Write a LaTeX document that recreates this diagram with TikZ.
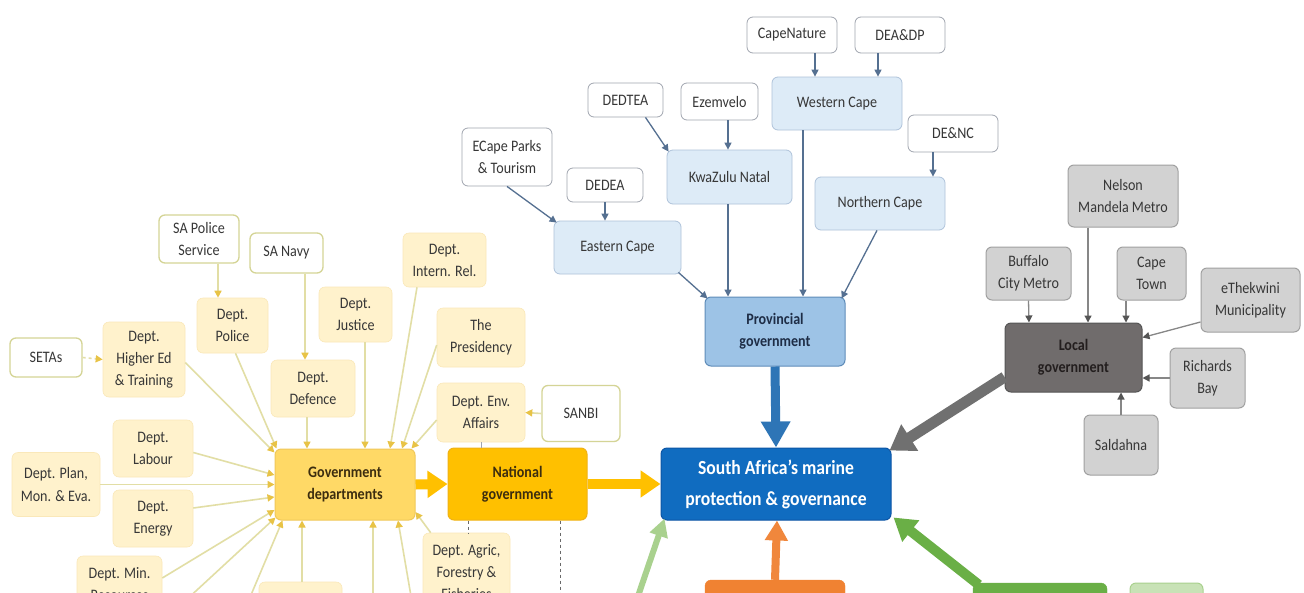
\documentclass[tikz,border=0pt]{standalone}
\usepackage{fontspec}
\setmainfont{Carlito}[FakeStretch=0.88]
\usetikzlibrary{arrows.meta}
\definecolor{txt}{RGB}{55,55,55}
\definecolor{pbord}{RGB}{160,165,175}
\definecolor{pfill}{RGB}{221,235,247}
\definecolor{pregb}{RGB}{175,195,218}
\definecolor{pgfill}{RGB}{157,195,230}
\definecolor{pgbord}{RGB}{95,140,185}
\definecolor{mainfill}{RGB}{16,108,192}
\definecolor{mainbord}{RGB}{12,85,165}
\definecolor{parrow}{RGB}{85,112,145}
\definecolor{bluethick}{RGB}{46,117,182}
\definecolor{lfill}{RGB}{210,210,210}
\definecolor{lbord}{RGB}{160,160,160}
\definecolor{lgfill}{RGB}{112,108,108}
\definecolor{lgbord}{RGB}{85,85,85}
\definecolor{larrow}{RGB}{135,135,135}
\definecolor{graythick}{RGB}{112,112,112}
\definecolor{yfill}{RGB}{255,242,204}
\definecolor{ybord}{RGB}{250,232,185}
\definecolor{wbord}{RGB}{212,212,150}
\definecolor{gdfill}{RGB}{255,217,102}
\definecolor{gdbord}{RGB}{240,200,90}
\definecolor{ngfill}{RGB}{255,192,0}
\definecolor{ngbord}{RGB}{240,178,20}
\definecolor{yline}{RGB}{226,222,165}
\definecolor{ytip}{RGB}{232,195,70}
\definecolor{yel}{RGB}{255,192,0}
\definecolor{orfill}{RGB}{240,130,50}
\definecolor{orarrow}{RGB}{240,135,60}
\definecolor{dgreen}{RGB}{106,175,70}
\definecolor{lgreen}{RGB}{169,209,142}
\definecolor{lgbox}{RGB}{200,226,182}
\definecolor{dashgray}{RGB}{105,105,105}
\newcommand\fsS{\fontsize{16}{22}\selectfont}
\newcommand\fsB{\fontsize{16}{22}\selectfont\bfseries}
\newcommand\fsM{\fontsize{20}{31}\selectfont\bfseries}
\begin{document}
\begin{tikzpicture}[x=1pt,y=-1pt,
  wh/.style n args={2}{minimum width=#1pt,minimum height=#2pt},
  base/.style={rounded corners=6pt,align=center,inner sep=2pt,font=\fsS,text=txt},
  psub/.style={base,fill=white,draw=pbord,line width=0.8pt},
  preg/.style={base,fill=pfill,draw=pregb,line width=0.8pt},
  pgov/.style={base,fill=pgfill,draw=pgbord,line width=1pt,font=\fsB,text={rgb,255:red,30;green,45;blue,70}},
  mainbox/.style={base,fill=mainfill,draw=mainbord,line width=1pt,font=\fsM,text=white},
  lsub/.style={base,fill=lfill,draw=lbord,line width=1pt},
  lgov/.style={base,fill=lgfill,draw=lgbord,line width=1pt,font=\fsB,text={rgb,255:red,35;green,30;blue,30}},
  ysub/.style={base,fill=yfill,draw=ybord,line width=0.6pt},
  wsub/.style={base,fill=white,draw=wbord,line width=1.3pt},
  gdep/.style={base,fill=gdfill,draw=gdbord,line width=1pt,font=\fsB,text={rgb,255:red,60;green,45;blue,15}},
  ngov/.style={base,fill=ngfill,draw=ngbord,line width=1pt,font=\fsB,text={rgb,255:red,60;green,45;blue,15}},
  pa/.style={draw=parrow,line width=1.3pt,-{Triangle[width=7pt,length=7pt]}},
  la/.style={draw=larrow,line width=1.3pt,-{Triangle[width=7pt,length=7pt,color=lgbord]}},
  ya/.style={draw=yline,line width=1.6pt,-{Triangle[width=7pt,length=7pt,color=ytip]}},
  ythick/.style={draw=yel,line width=10pt,-{Triangle[width=26pt,length=20pt]}},
  bthick/.style={draw=bluethick,line width=9pt,-{Triangle[width=28pt,length=26pt]}},
  gthick/.style={draw=graythick,line width=11pt,-{Triangle[width=30pt,length=24pt]}},
  othick/.style={draw=orarrow,line width=8pt,-{Triangle[width=22pt,length=20pt]}},
  dgthick/.style={draw=dgreen,line width=10pt,-{Triangle[width=26pt,length=22pt]}},
  lgthick/.style={draw=lgreen,line width=6pt,-{Triangle[width=18pt,length=18pt]}},
  dashline/.style={draw=dashgray,line width=0.9pt,dashed}
]
\useasboundingbox (0,0) rectangle (1304,592);
\fill[white] (0,0) rectangle (1304,592);
\clip (0,0) rectangle (1304,592);

% ---------- provincial ----------
\node[psub,wh={90}{36}] (capenature) at (792,35) {CapeNature};
\node[psub,wh={90}{36}] (deadp) at (900,35) {DEA\&DP};
\node[preg,wh={130}{53}] (westerncape) at (837,103.5) {Western Cape};
\node[psub,wh={75}{34}] (dedtea) at (625.5,100) {DEDTEA};
\node[psub,wh={77}{37}] (ezemvelo) at (719.5,101.5) {Ezemvelo};
\node[psub,wh={90}{37}] (dence) at (953,133.5) {DE\&NC};
\node[psub,wh={90}{58}] (ecparks) at (507,157) {ECape Parks\\\& Tourism};
\node[psub,wh={76}{34}] (dedea) at (605,185) {DEDEA};
\node[preg,wh={125}{54}] (kzn) at (729.5,177) {KwaZulu Natal};
\node[preg,wh={130}{53}] (northerncape) at (880,203.5) {Northern Cape};
\node[preg,wh={127}{53}] (easterncape) at (617.5,247.5) {Eastern Cape};
\node[pgov,wh={140}{69}] (provgov) at (775,331.5) {Provincial\\government};
\node[mainbox,wh={230}{72}] (main) at (776,484) {South Africa’s marine\\protection \& governance};

\draw[pa] ([xshift=23pt]capenature.south) -- ([xshift=-22pt]westerncape.north);
\draw[pa] ([xshift=-22pt]deadp.south) -- ([xshift=41pt]westerncape.north);
\draw[pa] ([xshift=-20pt]dence.south) -- ([xshift=53pt]northerncape.north);
\draw[pa] ([xshift=20pt]dedtea.south) -- ([xshift=2pt,yshift=-2pt]kzn.north west);
\draw[pa] ([xshift=8.5pt]ezemvelo.south) -- ([xshift=-1.5pt]kzn.north);
\draw[pa] (ecparks.south) -- ([xshift=3pt,yshift=-2pt]easterncape.north west);
\draw[pa] (dedea.south) -- ([xshift=-12.5pt]easterncape.north);
\draw[pa] ([xshift=-3pt,yshift=2pt]easterncape.south east) -- ([xshift=3pt,yshift=-2pt]provgov.north west);
\draw[pa] ([xshift=-1.5pt]kzn.south) -- ([xshift=-47pt]provgov.north);
\draw[pa] ([xshift=-34pt]westerncape.south) -- ([xshift=28pt]provgov.north);
\draw[pa] ([xshift=-3pt]northerncape.south) -- ([xshift=-4pt,yshift=-2pt]provgov.north east);
\draw[bthick] (provgov.south) -- (main.north);

% ---------- local ----------
\node[lsub,wh={110}{62}] (nelson) at (1123,196) {Nelson\\Mandela Metro};
\node[lsub,wh={85}{53}] (buffalo) at (1028.5,273.5) {Buffalo\\City Metro};
\node[lsub,wh={69}{53}] (capetown) at (1151.5,273.5) {Cape\\Town};
\node[lsub,wh={99}{64}] (ethekwini) at (1250.5,300) {eThekwini\\Municipality};
\node[lgov,wh={137}{69}] (localgov) at (1073.5,357.5) {Local\\government};
\node[lsub,wh={75}{60}] (richards) at (1207.5,378) {Richards\\Bay};
\node[lsub,wh={74}{60}] (saldahna) at (1121,445) {Saldahna};

\draw[la] (buffalo.south) -- ([xshift=-44.5pt]localgov.north);
\draw[la] ([xshift=-35pt]nelson.south) -- ([xshift=14.5pt]localgov.north);
\draw[la] ([xshift=-25.5pt]capetown.south) -- ([xshift=52.5pt]localgov.north);
\draw[la] ([yshift=-22pt]ethekwini.west) -- ([yshift=20pt]localgov.east);
\draw[la] (richards.west) -- ([yshift=-20.5pt]localgov.east);
\draw[la] (saldahna.north) -- ([xshift=47.5pt]localgov.south);
\draw[gthick] ([yshift=-19.5pt]localgov.west) -- ([xshift=-2pt,yshift=-3pt]main.north east);

% ---------- national ----------
\node[wsub,wh={80}{48}] (sapolice) at (199,239) {SA Police\\Service};
\node[wsub,wh={73}{40}] (sanavy) at (286.5,253) {SA Navy};
\node[ysub,wh={83}{54}] (interrel) at (444.5,260) {Dept.\\Intern. Rel.};
\node[ysub,wh={71}{55}] (police) at (232.5,325.5) {Dept.\\Police};
\node[ysub,wh={73}{55}] (justice) at (355.5,314.5) {Dept.\\Justice};
\node[ysub,wh={88}{59}] (presidency) at (481,337.5) {The\\Presidency};
\node[wsub,wh={72}{39}] (setas) at (46,357.5) {SETAs};
\node[ysub,wh={82}{75}] (highered) at (144,359.5) {Dept.\\Higher Ed\\\& Training};
\node[ysub,wh={84}{57}] (defence) at (313,388.5) {Dept.\\Defence};
\node[ysub,wh={88}{59}] (envaffairs) at (481,412.5) {Dept. Env.\\Affairs};
\node[wsub,wh={78}{56}] (sanbi) at (581,413.5) {SANBI};
\node[ysub,wh={80}{57}] (labour) at (153,448.5) {Dept.\\Labour};
\node[ysub,wh={88}{64}] (plan) at (56,484.5) {Dept. Plan,\\Mon. \& Eva.};
\node[gdep,wh={140}{71}] (govdep) at (345,484.5) {Government\\departments};
\node[ngov,wh={139}{72}] (natgov) at (517.5,484) {National\\government};
\node[ysub,wh={80}{57}] (energy) at (153,518.5) {Dept.\\Energy};
\node[ysub,wh={85}{56}] (mining) at (119.5,584) {Dept. Min.\\Resources};
\node[ysub,wh={87}{78}] (agric) at (466.5,572) {Dept. Agric,\\Forestry \&\\Fisheries};
\node[ysub,wh={83}{58}] (bottombox) at (300.5,611) {};

\coordinate (b1) at (184,602);
\coordinate (b2) at (248,602);
\coordinate (b3) at (373,602);
\coordinate (b4) at (412,602);
\coordinate (dashend) at (560,602);
\coordinate (lgstart) at (636,602);

\draw[ya] ([xshift=19pt]sapolice.south) -- ([xshift=-14.5pt]police.north);
\draw[ya] ([xshift=18.5pt]sanavy.south) -- ([xshift=-8pt]defence.north);
\draw[ya,dashed] (setas.east) -- (highered.west);
\draw[ya] (sanbi.west) -- (envaffairs.east);
\draw[ya] ([xshift=3pt]police.south) -- ([xshift=2pt]govdep.north west);
\draw[ya] ([yshift=-3pt]highered.east) -- ([yshift=-4pt]govdep.north west);
\draw[ya] ([xshift=-6pt]defence.south) -- ([xshift=-38pt]govdep.north);
\draw[ya] ([xshift=9.5pt]justice.south) -- ([xshift=20pt]govdep.north);
\draw[ya] ([xshift=-27.5pt]interrel.south) -- ([xshift=45pt]govdep.north);
\draw[ya] ([yshift=-7.5pt]presidency.west) -- ([xshift=57pt]govdep.north);
\draw[ya] ([yshift=-7.5pt]envaffairs.west) -- ([xshift=-4pt]govdep.north east);
\draw[ya] ([yshift=-4pt]labour.east) -- ([yshift=9.5pt]govdep.west);
\draw[ya] (plan.east) -- (govdep.west);
\draw[ya] ([yshift=10.5pt]energy.east) -- ([yshift=-12.5pt]govdep.west);
\draw[ya] ([yshift=6pt]mining.east) -- ([yshift=-25.5pt]govdep.west);
\draw[ya] (b1) -- ([xshift=1pt,yshift=3pt]govdep.south west);
\draw[ya] (b2) -- ([xshift=8pt]govdep.south west);
\draw[ya] ([xshift=1.5pt]bottombox.north) -- ([xshift=-43pt]govdep.south);
\draw[ya] (b3) -- ([xshift=28pt]govdep.south);
\draw[ya] (b4) -- ([xshift=53pt]govdep.south);
\draw[ya] ([xshift=8pt]agric.north west) -- ([yshift=-27.5pt]govdep.east);

\draw[draw=pbord,line width=1pt] (envaffairs.south) -- ([xshift=-36.5pt]natgov.north);
\draw[dashline] ([xshift=-49.5pt]natgov.south) -- ([xshift=1.5pt]agric.north);
\draw[dashline] ([xshift=42.5pt]natgov.south) -- (dashend);

\draw[ythick] (govdep.east) -- (natgov.west);
\draw[ythick] (natgov.east) -- (main.west);

% ---------- bottom (cut off) ----------
\node[base,fill=orfill,draw=orfill,wh={140}{70}] (orange) at (775,615) {};
\node[base,fill=dgreen,draw=dgreen,wh={134}{66}] (dgbox) at (1040,616) {};
\node[base,fill=lgbox,draw=lgreen,line width=1pt,wh={73}{56}] (lgbox) at (1166.5,611) {};

\draw[othick] (orange.north) -- ([xshift=1pt]main.south);
\draw[dgthick] ([xshift=6pt,yshift=-2pt]dgbox.north west) -- ([xshift=2pt,yshift=3pt]main.south east);
\draw[lgthick] (lgstart) -- ([xshift=4pt,yshift=2pt]main.south west);
\end{tikzpicture}
\end{document}
